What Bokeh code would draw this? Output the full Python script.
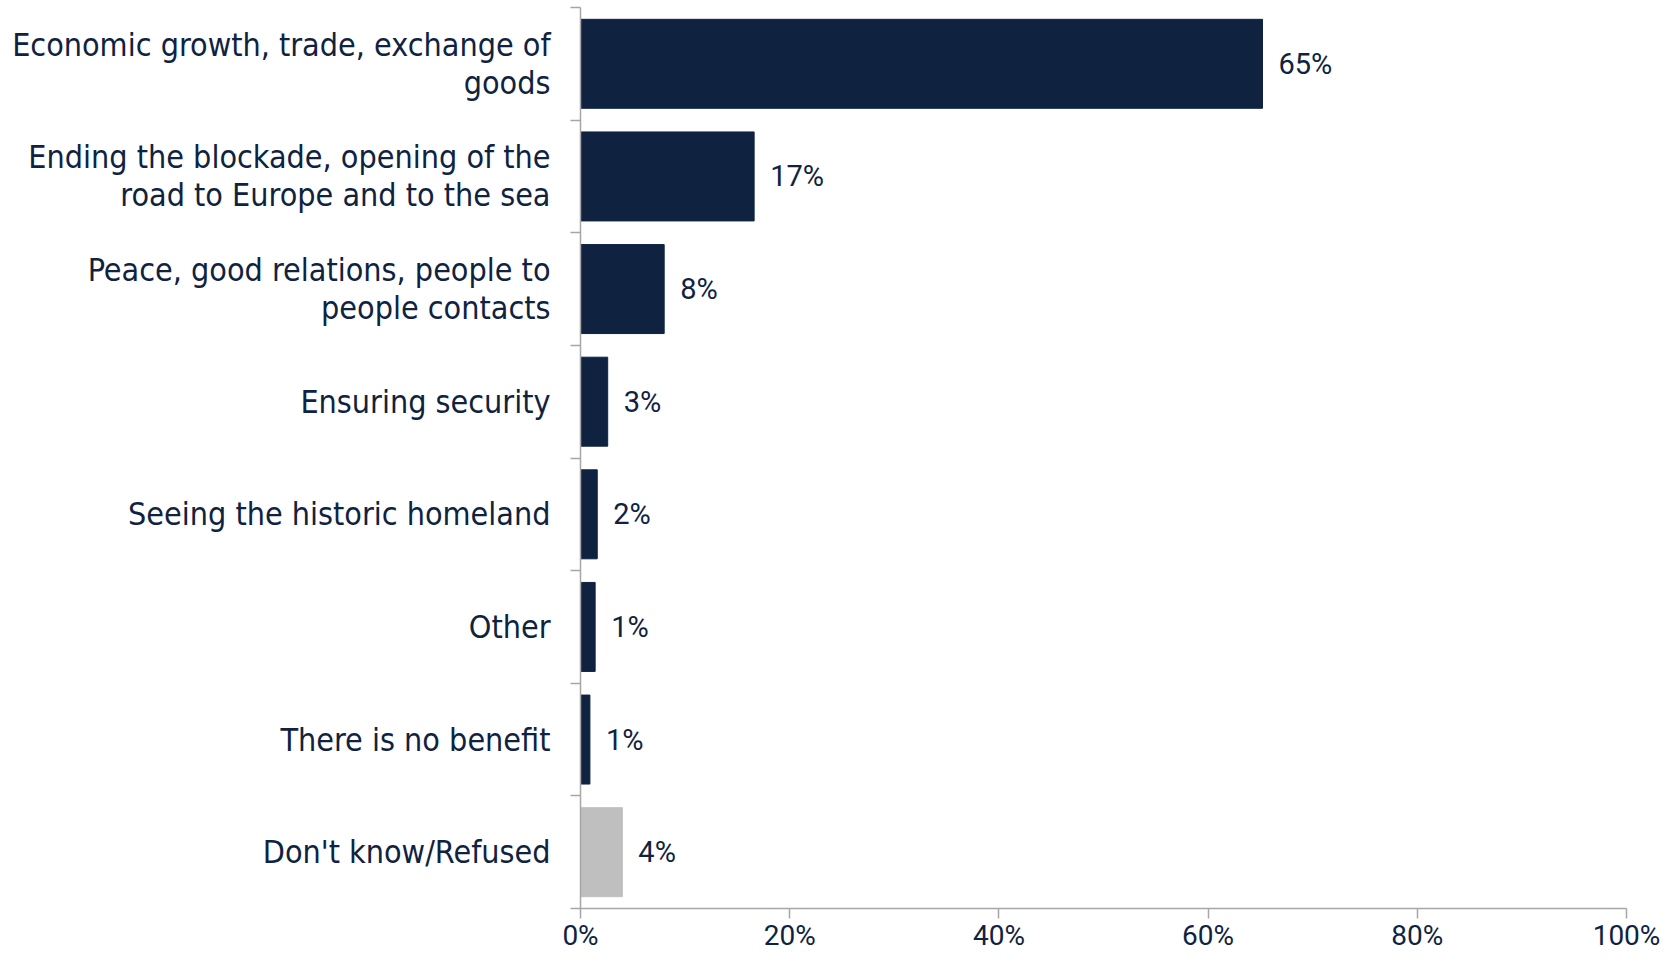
from bokeh.plotting import figure
from bokeh.models import Range1d, FixedTicker, ColumnDataSource
from bokeh.core.properties import value
from bokeh.embed import file_html
from bokeh.resources import INLINE

# ---- data ----
categories = [
    "Economic growth, trade, exchange of\ngoods",
    "Ending the blockade, opening of the\nroad to Europe and to the sea",
    "Peace, good relations, people to\npeople contacts",
    "Ensuring security",
    "Seeing the historic homeland",
    "Other",
    "There is no benefit",
    "Don't know/Refused",
]
values = [65.2, 16.6, 8.0, 2.6, 1.6, 1.4, 0.9, 4.0]
value_labels = ["65%", "17%", "8%", "3%", "2%", "1%", "1%", "4%"]
x_ticks = [0, 20, 40, 60, 80, 100]
x_tick_labels = ["0%", "20%", "40%", "60%", "80%", "100%"]
neutral_category = "Don't know/Refused"

# ---- styles ----
NAVY = "#0F2341"
GRAY = "#BFBFBF"
AXIS = "#A6A6A6"
LABEL_FONT = "DejaVu Sans Condensed"
NUM_FONT = "Roboto"

n = len(categories)
centers = [n - 1 - i + 0.5 for i in range(n)]
colors = [GRAY if c == neutral_category else NAVY for c in categories]

src = ColumnDataSource(dict(y=centers, v=values, lab=value_labels, color=colors))

p = figure(
    width=1663, height=954,
    x_range=Range1d(0, 100), y_range=Range1d(0, n),
    output_backend="svg", toolbar_location=None,
    min_border_left=580, min_border_right=37,
    min_border_top=7, min_border_bottom=43,
)
p.grid.visible = False
p.outline_line_color = None
p.background_fill_color = "white"
p.border_fill_color = "white"

p.hbar(y="y", right="v", left=0, height=0.79, color="color", source=src)
p.text(x="v", y="y", text="lab", source=src, x_offset=16,
       text_baseline="middle", text_align="left",
       text_font=value(NUM_FONT), text_font_size="29px", text_color=NAVY)

# y axis: labels at band centres, tick marks at band boundaries
ya = p.yaxis[0]
ya.ticker = FixedTicker(ticks=centers, minor_ticks=list(range(n + 1)))
ya.major_label_overrides = {c: cat for c, cat in zip(centers, categories)}
ya.major_tick_line_color = None
ya.major_tick_out = 0
ya.major_tick_in = 0
ya.minor_tick_out = 10
ya.minor_tick_in = 0
ya.minor_tick_line_color = AXIS
ya.minor_tick_line_width = 1.5
ya.axis_line_color = AXIS
ya.axis_line_width = 1.5
ya.major_label_standoff = 20
ya.major_label_text_font = LABEL_FONT
ya.major_label_text_font_size = "32px"
ya.major_label_text_line_height = 1.0
ya.major_label_text_align = "center"
ya.major_label_text_color = NAVY

xa = p.xaxis[0]
xa.ticker = FixedTicker(ticks=x_ticks)
xa.major_label_overrides = {t: l for t, l in zip(x_ticks, x_tick_labels)}
xa.major_tick_out = 10
xa.major_tick_in = 0
xa.major_tick_line_color = AXIS
xa.major_tick_line_width = 1.5
xa.minor_tick_line_color = None
xa.axis_line_color = AXIS
xa.axis_line_width = 1.5
xa.major_label_standoff = 0
xa.major_label_text_font = NUM_FONT
xa.major_label_text_font_size = "28px"
xa.major_label_text_color = NAVY

open("out.html", "w").write(file_html(p, INLINE))
